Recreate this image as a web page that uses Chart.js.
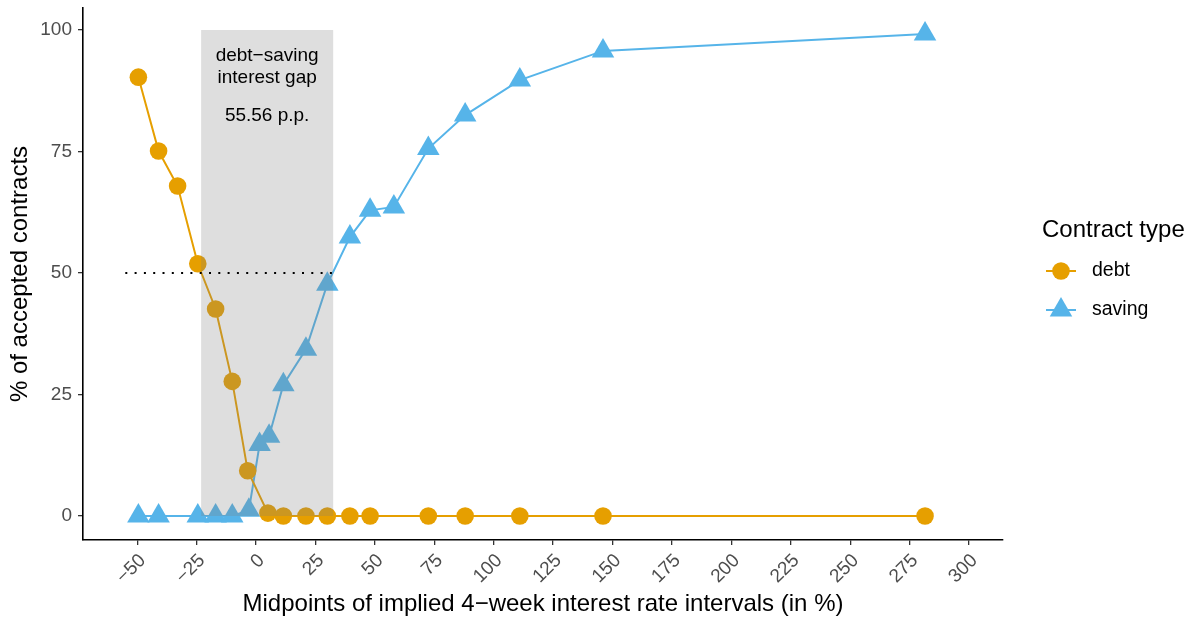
<!DOCTYPE html>
<html>
<head>
<meta charset="utf-8">
<script src="https://cdn.jsdelivr.net/npm/chart.js@4.4.0/dist/chart.umd.min.js"></script>
<style>
  html, body { margin: 0; padding: 0; background: #fff; }
  #wrap { width: 1195px; height: 619px; position: relative; }
</style>
</head>
<body>
<div id="wrap"><canvas id="chart" width="1195" height="619"></canvas></div>
<script>
// data
const debtX = [-49.5, -41, -33, -24.5, -17, -10, -3.5, 5, 11.5, 21, 30, 39.5, 48, 72.5, 88, 111, 146, 281.5];
const debtY = [90.3, 75.1, 67.9, 51.9, 42.6, 27.7, 9.3, 0.6, 0, 0, 0, 0, 0, 0, 0, 0, 0, 0];

const savingX = [-49.5, -41, -24.5, -17, -10, -3, 1.5, 5.5, 11.5, 21, 30, 39.5, 48, 58, 72.5, 88, 111, 146, 281.5];
const savingY = [0, 0, 0, 0, 0, 1.2, 14.7, 16.4, 27.0, 34.3, 47.7, 57.4, 62.9, 63.6, 75.6, 82.5, 89.7, 95.7, 99.2];

const xTicks = [-50, -25, 0, 25, 50, 75, 100, 125, 150, 175, 200, 225, 250, 275, 300];
const yTicks = [0, 25, 50, 75, 100];

// shaded gap between the two 50% crossings
const gapLow = -23.1;
const gapHigh = 32.46;
const gapLabel = ["debt\u2212saving", "interest gap", "55.56 p.p."];
const refLevel = 50;
const refStart = -55;

const DEBT = "#E69F00";
const SAVING = "#56B4E9";
const FONT = "'Liberation Sans', Arial, sans-serif";

const toPts = (xs, ys) => xs.map((x, i) => ({ x: x, y: ys[i] }));
const minus = (v) => String(v).replace("-", "\u2212");

const gapPlugin = {
  id: "gap",
  afterDatasetsDraw(chart) {
    const { ctx, scales: { x, y } } = chart;
    ctx.save();
    // grey band, drawn over the marks like the original
    const x0 = x.getPixelForValue(gapLow);
    const x1 = x.getPixelForValue(gapHigh);
    const yTop = y.getPixelForValue(100);
    const yBot = y.getPixelForValue(0);
    ctx.fillStyle = "rgba(127,127,127,0.26)";
    ctx.fillRect(x0, yTop, x1 - x0, yBot - yTop);

    // dotted 50% line
    ctx.strokeStyle = "#000";
    ctx.lineWidth = 2;
    ctx.setLineDash([2, 7.3]);
    ctx.beginPath();
    ctx.moveTo(x.getPixelForValue(refStart), y.getPixelForValue(refLevel));
    ctx.lineTo(x1, y.getPixelForValue(refLevel));
    ctx.stroke();
    ctx.setLineDash([]);

    // label
    const cx = (x0 + x1) / 2;
    ctx.fillStyle = "#000";
    ctx.font = "19px " + FONT;
    ctx.textAlign = "center";
    ctx.textBaseline = "middle";
    ctx.fillText(gapLabel[0], cx, y.getPixelForValue(94.8));
    ctx.fillText(gapLabel[1], cx, y.getPixelForValue(90.1));
    ctx.fillText(gapLabel[2], cx, y.getPixelForValue(82.4));
    ctx.restore();
  },
  afterDraw(chart) {
    const { ctx, scales: { x, y } } = chart;
    ctx.save();

    // tick labels
    ctx.fillStyle = "#4d4d4d";
    ctx.font = "19px " + FONT;
    ctx.textAlign = "right";
    ctx.textBaseline = "middle";
    yTicks.forEach((v) => {
      ctx.fillText(minus(v), y.right - 11, y.getPixelForValue(v));
    });
    // rotated x labels, right end hanging off the tick
    xTicks.forEach((v) => {
      ctx.save();
      ctx.translate(x.getPixelForValue(v) + 5.5, x.top + 17.5);
      ctx.rotate(-Math.PI / 4);
      ctx.fillText(minus(v), 0, 0);
      ctx.restore();
    });

    // legend on the right
    ctx.fillStyle = "#000";
    ctx.font = "24px " + FONT;
    ctx.textAlign = "left";
    ctx.fillText("Contract type", 1042, 230);

    const rows = [
      { label: "debt", color: DEBT, y: 271, shape: "circle" },
      { label: "saving", color: SAVING, y: 310, shape: "triangle" },
    ];
    rows.forEach((r) => {
      ctx.strokeStyle = r.color;
      ctx.lineWidth = 2;
      ctx.beginPath();
      ctx.moveTo(1046, r.y);
      ctx.lineTo(1076, r.y);
      ctx.stroke();
      ctx.fillStyle = r.color;
      ctx.beginPath();
      if (r.shape === "circle") {
        ctx.arc(1061, r.y, 8.8, 0, Math.PI * 2);
      } else {
        const rad = 13;
        ctx.moveTo(1061, r.y - rad);
        ctx.lineTo(1061 + rad * Math.sin(2 * Math.PI / 3), r.y + rad / 2);
        ctx.lineTo(1061 - rad * Math.sin(2 * Math.PI / 3), r.y + rad / 2);
        ctx.closePath();
      }
      ctx.fill();
      ctx.fillStyle = "#000";
      ctx.font = "19.5px " + FONT;
      ctx.fillText(r.label, 1092, r.y);
    });
    ctx.restore();
  },
};

new Chart(document.getElementById("chart"), {
  type: "line",
  data: {
    datasets: [
      {
        label: "debt",
        data: toPts(debtX, debtY),
        borderColor: DEBT,
        backgroundColor: DEBT,
        borderWidth: 2,
        pointStyle: "circle",
        pointRadius: 8.8,
        pointHoverRadius: 8.8,
        pointBorderWidth: 0,
        tension: 0,
      },
      {
        label: "saving",
        data: toPts(savingX, savingY),
        borderColor: SAVING,
        backgroundColor: SAVING,
        borderWidth: 2,
        pointStyle: "triangle",
        pointRadius: 13,
        pointHoverRadius: 13,
        pointBorderWidth: 0,
        tension: 0,
      },
    ],
  },
  options: {
    responsive: false,
    animation: false,
    maintainAspectRatio: false,
    layout: { autoPadding: false, padding: { top: 8, right: 192, left: 0, bottom: 0 } },
    plugins: { legend: { display: false }, tooltip: { enabled: false } },
    scales: {
      x: {
        type: "linear",
        min: -72.8,
        max: 314.3,
        afterBuildTicks: (s) => { s.ticks = xTicks.map((v) => ({ value: v })); },
        afterFit: (s) => { s.height = 79; },
        border: { display: true, color: "#000", width: 1.6 },
        grid: { drawOnChartArea: false, drawTicks: true, tickLength: 5, color: "#333", lineWidth: 1.3 },
        ticks: { display: false },
        title: {
          display: true,
          text: "Midpoints of implied 4\u2212week interest rate intervals (in %)",
          color: "#000",
          font: { family: FONT, size: 24 },
          padding: { top: 0, bottom: 0 },
        },
      },
      y: {
        type: "linear",
        min: -4.94,
        max: 104.53,
        afterBuildTicks: (s) => { s.ticks = yTicks.map((v) => ({ value: v })); },
        afterFit: (s) => { s.width = 83; },
        border: { display: true, color: "#000", width: 1.6 },
        grid: { drawOnChartArea: false, drawTicks: true, tickLength: 5, color: "#333", lineWidth: 1.3 },
        ticks: { display: false },
        title: {
          display: true,
          text: "% of accepted contracts",
          color: "#000",
          font: { family: FONT, size: 24 },
          padding: { top: 6, bottom: 0 },
        },
      },
    },
  },
  plugins: [gapPlugin],
});
</script>
</body>
</html>
